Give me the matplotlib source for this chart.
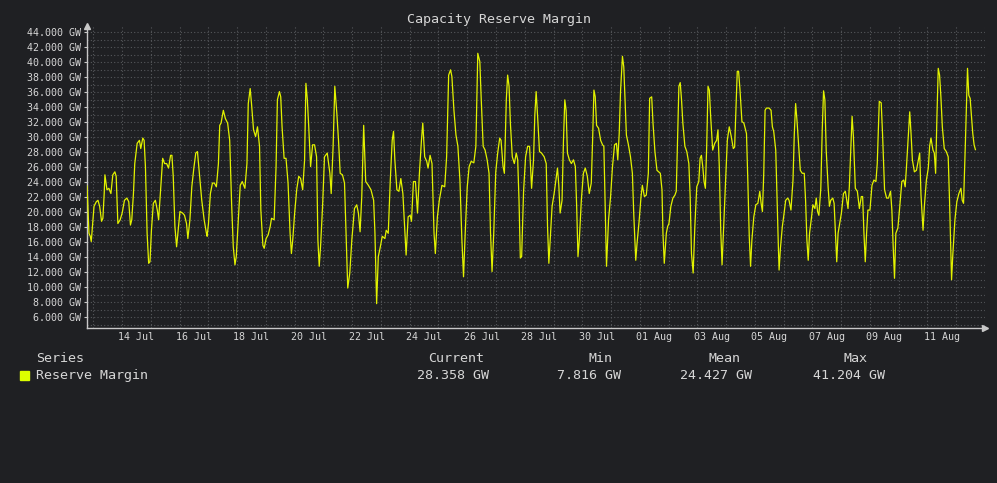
import matplotlib
matplotlib.use("Agg")
import matplotlib.pyplot as plt
import matplotlib.dates as mdates
from matplotlib.patches import Rectangle
from matplotlib.ticker import MultipleLocator, FuncFormatter
import numpy as np
import pandas as pd

# hours after 14 Jul 00:00
hours = [
    -41.2, -39.6, -38.5, -37.7, -35.4, -33.5, -32.1, -30.7, -29.1, -28.0,
    -26.9, -26.3, -24.6, -23.0, -21.3, -19.7, -18.0, -16.9, -15.5, -13.6,
    -11.9, -10.0, -8.0, -6.4, -5.0, -3.9, -2.5, -1.4, 0.6, 2.5,
    3.6, 5.3, 6.4, 7.5, 8.9, 10.2, 11.3, 12.5, 14.1, 15.8,
    17.4, 18.5, 20.2, 21.9, 23.5, 25.2, 26.8, 28.5, 29.6, 30.7,
    32.1, 33.5, 34.6, 36.3, 38.5, 40.1, 41.8, 42.9, 44.6, 46.2,
    47.9, 49.5, 50.9, 52.3, 54.5, 56.5, 58.4, 59.0, 60.1, 61.7,
    63.4, 65.0, 66.7, 68.4, 69.5, 70.6, 72.5, 74.2, 76.1, 77.8,
    79.4, 80.8, 82.2, 83.3, 85.0, 86.6, 88.3, 90.5, 92.2, 93.3,
    94.9, 96.0, 97.7, 99.4, 101.0, 102.7, 103.8, 105.5, 106.6, 108.2,
    109.9, 111.6, 112.7, 114.9, 116.5, 117.6, 119.3, 120.4, 121.5, 123.2,
    124.8, 126.5, 128.2, 129.3, 130.4, 132.0, 133.7, 135.4, 137.0, 138.7,
    140.3, 141.4, 142.6, 143.7, 145.3, 147.0, 148.6, 150.3, 151.4, 152.5,
    153.6, 155.3, 156.9, 159.2, 161.4, 162.5, 164.1,
    165.5, 167.2, 168.6, 170.0, 171.9, 173.6, 174.7, 176.3, 178.0, 179.7,
    181.9, 183.8, 185.2, 186.6, 188.0, 189.6, 191.3, 193.5, 195.7, 197.9,
    199.0, 200.4, 201.8, 203.5, 205.1, 207.3, 208.4, 210.1, 211.8, 213.4,
    214.5, 215.6, 217.3, 219.0, 220.6, 222.3, 223.9, 225.0, 226.7, 228.4,
    229.5, 231.1, 232.8, 234.5, 236.1, 237.8, 238.9, 240.5, 242.2, 243.3,
    245.0, 246.6, 248.3, 249.4, 251.1, 252.7, 254.9, 257.2, 258.8, 260.5,
    262.1, 263.2, 264.9, 266.6, 268.2, 269.9, 271.5, 272.9, 274.3, 276.0,
    277.6, 279.3, 281.5, 283.2, 284.8, 286.5, 287.6, 289.3, 290.9, 292.6,
    294.2, 295.4, 296.7, 298.1, 299.8, 301.4, 303.1, 304.2, 305.9, 307.0,
    308.6, 309.7, 310.9, 312.0, 313.6, 315.3, 316.9, 318.1, 319.2, 320.3,
    321.4, 323.0, 324.7, 326.4, 328.0, 329.7, 331.3, 332.4, 333.5, 334.7,
    336.3, 338.0, 340.2, 341.9, 343.0, 344.1, 345.2, 346.8, 348.5, 350.2,
    351.3, 352.4, 353.5, 355.1, 356.3, 357.4, 358.5, 359.6, 361.2, 362.9,
    364.6, 366.2, 367.3, 368.4, 369.5, 371.2, 372.9, 374.5, 376.2, 377.8,
    379.5, 380.6, 381.7, 382.8, 383.9, 385.6, 387.3, 388.9, 390.0, 391.1,
    392.2, 393.9, 395.6, 397.2, 398.9, 400.5, 401.6, 402.8, 403.9, 405.5,
    406.6, 407.7, 408.8, 410.5, 412.2, 413.8, 414.9, 416.6, 417.7, 419.4,
    421.0, 422.1, 423.8, 425.4, 427.1, 428.2, 429.9, 431.0, 432.6, 434.3,
    437.1, 438.5, 439.3, 440.4, 442.1, 443.2, 444.3, 445.9, 447.6, 449.3,
    450.4, 451.5, 452.6, 453.7, 454.8, 455.9, 457.6, 459.2, 460.9, 462.0,
    463.1, 464.5, 465.9, 467.5, 469.2, 470.3, 471.4, 472.5, 473.6, 474.7,
    475.8, 476.9, 478.0, 479.1, 480.8, 482.5, 484.1, 485.2, 486.3, 487.5,
    488.6, 489.7, 491.3, 493.0, 494.6, 496.3, 498.0, 499.1, 500.2, 501.3,
    502.4, 503.5, 505.2, 506.8, 509.0, 510.1, 511.3, 512.4, 513.5, 515.1,
    516.8, 518.5, 520.1, 521.2, 522.3, 523.4, 524.5, 525.6, 527.9, 529.5,
    530.6, 531.7, 533.4, 534.5, 535.6, 536.2, 537.3, 538.9, 540.0, 541.7,
    543.4, 544.5, 546.1, 547.8, 548.9, 550.0, 551.1, 552.2, 553.9, 555.5,
    557.2, 558.3, 559.4, 560.5, 561.6, 563.3, 564.4, 566.1, 567.2, 568.3,
    569.4, 571.0, 572.2, 573.3, 574.4, 575.5, 577.1, 578.2, 579.3, 581.0,
    582.1, 583.2, 584.3, 585.4, 587.1, 588.2, 589.9, 591.5, 592.6, 593.7,
    594.8, 596.0, 597.1, 598.2, 599.8, 601.5, 603.2, 604.8, 605.9, 607.0,
    608.1, 609.2, 610.3, 612.0, 613.7, 615.3, 617.0, 618.1, 619.8, 621.4,
    622.5, 624.2, 625.9, 627.5, 629.2, 630.3, 631.4, 632.5, 633.6, 635.3,
    636.9, 638.6, 640.2, 641.4, 642.5, 644.1, 645.2, 646.3, 647.4, 649.1,
    650.8, 652.4, 653.5, 654.6, 656.3, 657.4, 659.1, 660.7, 661.8, 662.9,
    664.6, 665.7, 666.8, 667.9, 669.0, 670.1, 671.2, 672.4, 674.0, 675.7,
    677.3, 678.4, 680.1, 681.2, 682.9, 684.5, 686.2, 687.9, 689.0, 690.1,
    691.7, 693.4, 694.5, 695.6, 696.7, 697.8, 698.9, 700.0,
]

# reserve margin in GW
margin = [
    23.5, 17.2, 16.8, 16.1, 20.8, 21.4, 21.6, 20.8, 18.8, 19.2,
    22.5, 25.0, 23.0, 23.2, 22.5, 25.0, 25.4, 24.8, 18.5, 19.0,
    19.9, 21.6, 21.9, 21.4, 18.3, 19.0, 22.5, 26.5, 29.2, 29.6,
    28.5, 29.9, 29.6, 26.1, 17.2, 13.2, 13.4, 17.6, 21.2, 21.6,
    20.3, 19.0, 23.2, 27.2, 26.5, 26.5, 25.9, 27.6, 27.6, 24.8,
    18.1, 15.4, 17.2, 20.1, 19.9, 19.6, 18.5, 16.5, 19.0, 23.4,
    25.9, 27.9, 28.1, 25.6, 21.6, 19.0, 17.2, 16.8, 18.5, 22.5,
    23.9, 23.9, 23.4, 26.5, 31.6, 31.9, 33.6, 32.5, 31.9, 29.6,
    21.2, 15.4, 13.0, 14.1, 19.0, 23.6, 24.1, 23.2, 26.5, 34.5,
    36.5, 34.5, 31.0, 30.1, 31.4, 28.8, 20.3, 15.6, 15.2, 16.5,
    17.0, 18.1, 19.2, 19.0, 26.1, 35.0, 36.1, 35.4, 31.4, 27.2,
    27.2, 23.9, 17.2, 14.5, 16.3, 19.9, 23.0, 24.8, 24.5, 23.0,
    27.0, 37.2, 35.0, 31.6, 26.1, 29.0, 29.0, 27.4, 16.3, 12.8,
    15.4, 20.8, 27.4, 27.9, 25.2, 22.5, 28.8,
    36.8, 33.2, 29.6, 25.2, 25.0, 23.9, 18.1, 9.9, 11.9, 16.3,
    20.5, 21.0, 19.9, 17.4, 22.1, 31.6, 24.1, 23.6, 23.0, 21.6,
    17.2, 7.816, 14.1, 15.4, 16.8, 16.5, 17.6, 17.2, 24.3, 29.6,
    30.8, 27.0, 23.0, 22.8, 24.5, 22.5, 17.6, 14.3, 19.4, 19.6,
    18.8, 24.1, 24.1, 19.9, 25.2, 29.6, 31.9, 27.4, 26.8, 25.9,
    27.6, 26.5, 17.2, 14.5, 19.4, 21.6, 23.6, 23.4, 27.4, 38.3,
    39.0, 38.1, 33.6, 30.3, 28.8, 24.3, 16.5, 11.4, 17.2, 23.4,
    26.1, 26.8, 26.6, 28.8, 41.204, 40.1, 35.4, 28.8, 28.3, 27.0,
    25.2, 17.4, 12.1, 17.2, 25.4, 27.9, 29.9, 29.6, 26.1, 25.2,
    35.0, 38.3, 36.8, 31.9, 27.4, 26.5, 27.9, 27.0, 21.6, 13.9,
    14.1, 22.8, 27.4, 28.8, 28.8, 23.2, 27.0, 33.0, 36.1, 32.8,
    28.1, 27.9, 27.4, 26.5, 18.1, 13.2, 16.3, 20.8, 22.5, 24.5,
    25.9, 23.6, 19.9, 21.6, 29.6, 35.0, 33.6, 27.9, 27.0, 26.5,
    27.0, 26.1, 20.8, 14.1, 16.3, 21.6, 25.2, 25.9, 24.8, 22.5,
    23.9, 29.6, 36.3, 35.4, 31.6, 31.2, 29.6, 29.0, 28.8, 20.8,
    12.8, 19.0, 22.1, 26.1, 29.0, 29.2, 27.0, 30.5, 36.1, 40.8,
    39.4, 35.0, 30.3, 29.0, 27.4, 25.2, 19.9, 13.6, 15.9, 18.8,
    22.1, 23.6, 22.1, 22.3, 25.2, 35.2, 35.4, 31.9, 28.1, 25.6,
    25.2, 23.0, 17.2, 13.2, 17.2, 18.1, 18.5, 20.8, 21.9, 22.3,
    22.8, 29.6, 36.8, 37.3, 35.0, 31.9, 28.8, 28.1, 26.5, 22.1,
    14.5, 11.9, 18.1, 23.4, 24.1, 27.2, 27.6, 26.1, 24.1, 23.2,
    28.8, 36.8, 36.3, 32.8, 28.3, 29.2, 29.6, 31.0, 26.1, 17.6,
    13.0, 17.2, 23.4, 29.6, 31.4, 30.1, 28.5, 28.7, 33.6, 38.8,
    38.8, 36.5, 32.1, 31.9, 30.5, 24.3, 16.8, 12.8, 16.3, 19.4,
    21.0, 21.2, 22.8, 21.2, 20.1, 25.2, 33.6, 33.9, 33.9, 33.6,
    31.4, 30.8, 28.3, 21.6, 15.4, 12.3, 15.2, 18.1, 19.4, 21.6,
    21.9, 21.6, 20.3, 24.3, 30.5, 34.5, 32.3, 29.6, 25.6, 25.2,
    25.2, 21.6, 16.3, 13.6, 17.2, 19.4, 21.0, 20.5, 21.9, 20.1,
    19.6, 23.2, 31.0, 36.2, 35.0, 28.3, 23.4, 20.8, 21.6, 21.9,
    21.2, 17.2, 13.4, 17.2, 18.8, 19.9, 22.5, 22.8, 21.6, 20.5,
    23.4, 28.3, 32.8, 30.1, 23.2, 22.8, 20.5, 22.1, 22.1, 17.2,
    13.4, 17.2, 20.3, 20.3, 23.6, 24.3, 24.1, 26.5, 34.8, 34.6,
    30.5, 23.0, 21.9, 21.9, 22.8, 20.3, 15.4, 11.2, 17.2, 17.9,
    20.8, 24.1, 24.3, 23.4, 26.1, 30.5, 33.4, 30.5, 27.0, 25.4,
    25.6, 27.0, 27.9, 22.3, 17.6, 20.8, 24.3, 25.9, 28.8, 29.9,
    28.3, 27.9, 25.2, 32.8, 39.2, 38.3, 35.4, 31.4, 28.5, 28.1,
    27.4, 21.6, 11.0, 14.5, 19.0, 21.4, 22.5, 23.2, 21.6, 21.2,
    29.6, 39.2, 35.6, 35.2, 32.8, 30.5, 29.0, 28.358,
]

series_name = "Reserve Margin"
stat_names = ["Current", "Min", "Mean", "Max"]
stat_values = [28.358, 7.816, 24.427, 41.204]

t0 = pd.Timestamp("2024-07-14")
times = t0 + pd.to_timedelta(hours, unit="h")

bg = "#1f2023"
fg = "#d6d6d6"
axis_col = "#c8c8c8"
grid_col = "#55575b"
line_col = "#e2f200"
mono = "DejaVu Sans Mono"

W, H = 997, 483
top_px = 25.6
fig = plt.figure(figsize=(W / 100, H / 100), dpi=100, facecolor=bg)
ax = fig.add_axes([87 / W, (H - 328.3) / H, (985 - 87) / W, (328.3 - top_px) / H])
ax.set_facecolor(bg)

ax.plot(times, margin, color=line_col, lw=0.9, zorder=3)

ax.set_xlim(t0 + pd.Timedelta(hours=-41.25), t0 + pd.Timedelta(hours=704.2))
ax.set_ylim(4.53, 44.9)

# x axis: labels at midnight every 2 days, grid at noon every day
label_days = pd.date_range("2024-07-14", "2024-08-11", freq="2D")
ax.set_xticks(label_days)
ax.xaxis.set_major_formatter(mdates.DateFormatter("%d %b"))
ax.set_xticks(pd.date_range("2024-07-12 12:00", "2024-08-12 12:00", freq="D"), minor=True)

ax.yaxis.set_major_locator(MultipleLocator(2))
ax.yaxis.set_minor_locator(MultipleLocator(1))
ax.yaxis.set_major_formatter(FuncFormatter(lambda v, p: f"{v:.3f} GW" if 6 <= v <= 44 else ""))

ax.grid(False)
ax.grid(True, axis="x", which="minor", color=grid_col, lw=0.8, ls=(0, (1, 2)))
ax.grid(True, axis="y", which="both", color=grid_col, lw=0.8, ls=(0, (1, 2)))

ax.tick_params(axis="x", which="both", length=0, pad=2.6, labelsize=7.2, labelcolor=fg)
ax.tick_params(axis="y", which="major", length=2, width=0.8, color=axis_col, pad=2.5,
               labelsize=7.2, labelcolor=fg)
ax.tick_params(axis="y", which="minor", length=0)
for lab in ax.get_xticklabels() + ax.get_yticklabels():
    lab.set_fontfamily(mono)

for s in ["top", "right"]:
    ax.spines[s].set_visible(False)
for s in ["left", "bottom"]:
    ax.spines[s].set_color(axis_col)
    ax.spines[s].set_linewidth(1.0)

ax.plot(1, 0, marker=">", ms=5, color=axis_col, transform=ax.transAxes, clip_on=False)
ax.plot(0, 1, marker="^", ms=5, color=axis_col, transform=ax.transAxes, clip_on=False)

fig.text(0.5, 1 - 23.5 / H, "Capacity Reserve Margin", ha="center", va="baseline",
         color=fg, fontsize=9.6, family=mono)

# legend table
fig.text(36 / W, 1 - 361.5 / H, "Series", ha="left", va="baseline",
         color=fg, fontsize=9.6, family=mono)
fig.text(36 / W, 1 - 378.8 / H, series_name, ha="left", va="baseline",
         color=fg, fontsize=9.6, family=mono)
fig.patches.append(Rectangle((20 / W, 1 - 380 / H), 9 / W, 9 / H,
                             transform=fig.transFigure, color="#dcff00"))

head_x = [428.3, 588, 708, 843]
val_x = [416.7, 556.7, 680, 812.7]
for name, val, hx, vx in zip(stat_names, stat_values, head_x, val_x):
    fig.text(hx / W, 1 - 361.5 / H, name, ha="left", va="baseline",
             color=fg, fontsize=9.6, family=mono)
    fig.text(vx / W, 1 - 378.8 / H, f"{val:.3f} GW", ha="left", va="baseline",
             color=fg, fontsize=9.6, family=mono)

fig.savefig("out.png", dpi=100, facecolor=bg)
